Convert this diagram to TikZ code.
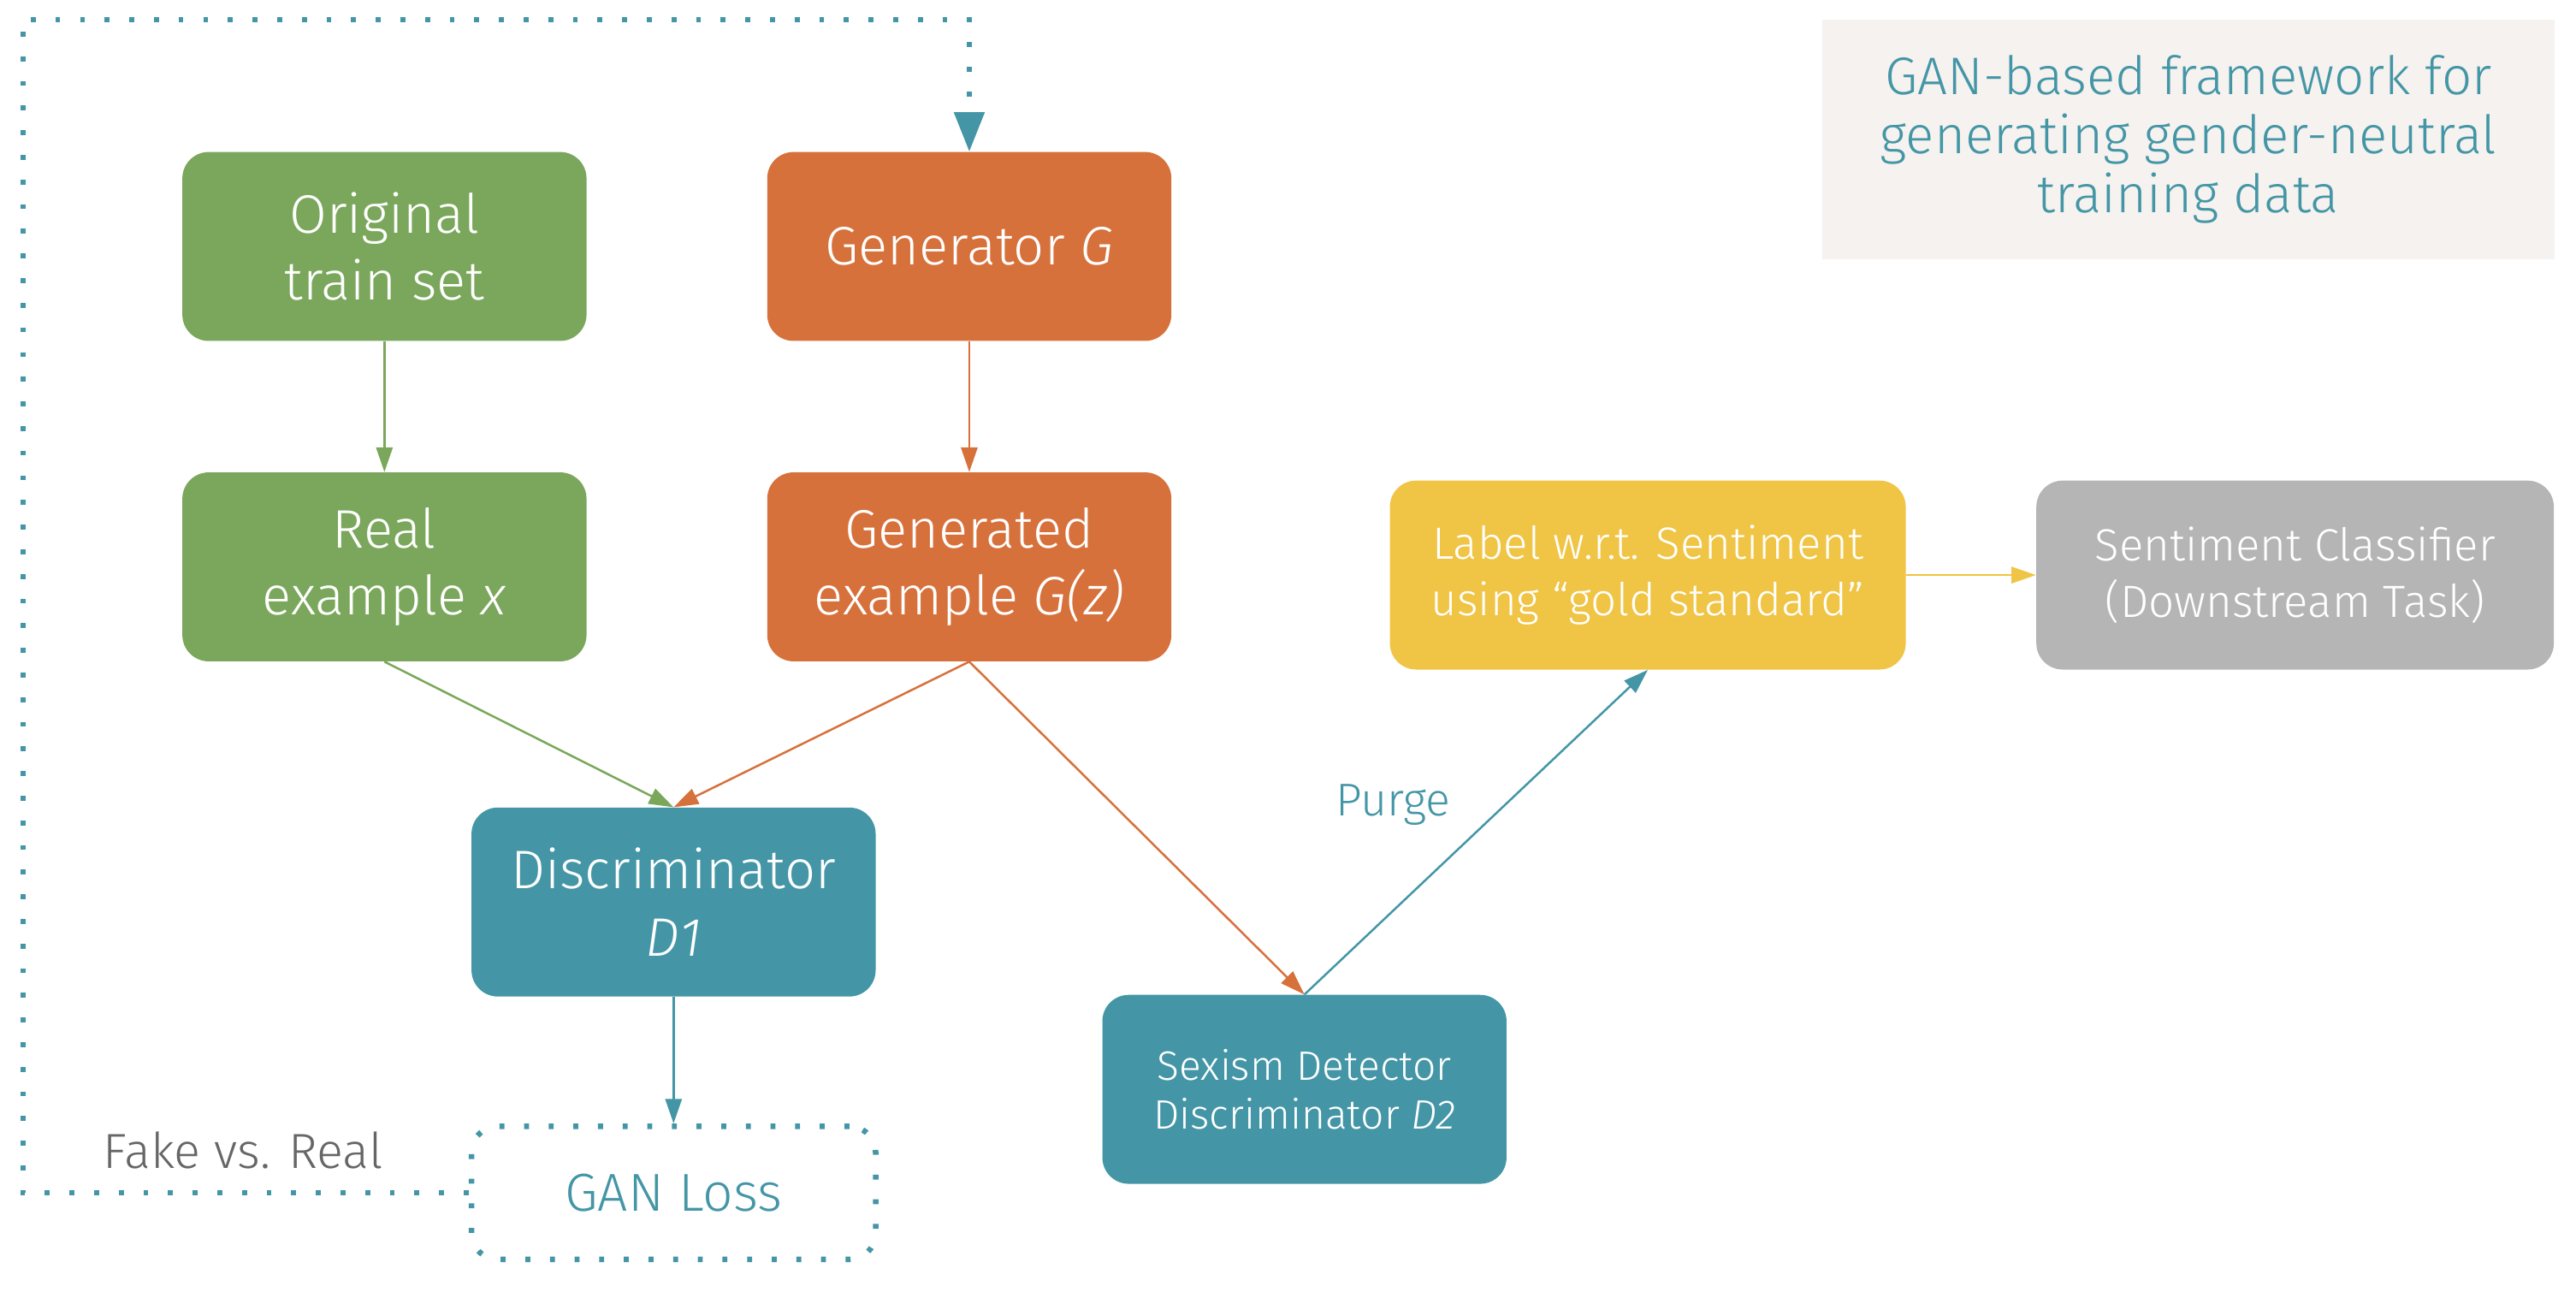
\documentclass[tikz,border=0pt]{standalone}
\usepackage{fontspec}
\setmainfont{Fira Sans Light}[ItalicFont={Fira Sans Light Italic}]
\usetikzlibrary{arrows.meta}
\definecolor{cgreen}{HTML}{7AA75B}
\definecolor{corange}{HTML}{D7713C}
\definecolor{cteal}{HTML}{4496A6}
\definecolor{cyellow}{HTML}{F0C444}
\definecolor{cgray}{HTML}{B5B5B5}
\definecolor{ctitle}{HTML}{F5F2EF}
\definecolor{ctext}{HTML}{666666}
\newcommand\myfontA{\fontsize{33}{41}\selectfont}
\newcommand\myfontB{\fontsize{27.5}{34}\selectfont}
\newcommand\myfontC{\fontsize{25}{30}\selectfont}
\newcommand\myfontT{\fontsize{32.2}{36}\selectfont}
\tikzset{
  box/.style={rounded corners=16pt, minimum width=246pt, minimum height=115pt, align=center, text=white, inner sep=0pt, font=\myfontA},
  conn/.style={line width=1.3pt, -{Triangle[length=15pt,width=10pt]}},
  dotloop/.style={draw=cteal, line width=3.4pt, dash pattern=on 3pt off 12pt},
}
\begin{document}
\begin{tikzpicture}[x=1pt,y=-1pt]
\useasboundingbox (0,0) rectangle (1568,786);
% title
\node[fill=ctitle, minimum width=446pt, minimum height=146pt, inner sep=0pt, align=center, text=cteal, font=\myfontT] (title) at (1332,85) {GAN-based framework for\\generating gender-neutral\\training data};
% boxes
\node[box, fill=cgreen] (orig) at (234,150) {Original\\train set};
\node[box, fill=corange] (gen) at (590,150) {Generator \textit{G}};
\node[box, fill=cgreen] (real) at (234,345) {Real\\example \textit{x}};
\node[box, fill=corange] (gz) at (590,345) {Generated\\example \textit{G(z)}};
\node[box, fill=cteal] (d1) at (410,549) {Discriminator\\\textit{D1}};
\node[box, fill=cteal, font=\myfontC] (d2) at (794,663) {Sexism Detector\\Discriminator \textit{D2}};
\node[box, fill=cyellow, minimum width=314pt, font=\myfontB] (label) at (1003,350) {Label w.r.t. Sentiment\\using “gold standard”};
\node[box, fill=cgray, minimum width=315pt, font=\myfontB] (cls) at (1397,350) {Sentiment Classifier\\(Downstream Task)};
\node[dotloop, rounded corners=16pt, minimum width=246pt, minimum height=81pt, inner sep=0pt, text=cteal, font=\fontsize{32.5}{36}\selectfont] (loss) at (410,726) {GAN Loss};
% labels
\node[text=ctext, font=\fontsize{30}{34}\selectfont] (fvr) at (148,700) {Fake vs. Real};
\node[text=cteal, font=\fontsize{28}{32}\selectfont] (purge) at (848,490) {Purge};
% connectors
\draw[conn, cgreen] (orig) -- (real);
\draw[conn, corange] (gen) -- (gz);
\draw[conn, cgreen] (real.south) -- (d1.north);
\draw[conn, corange] (gz.south) -- (d1.north);
\draw[conn, corange] (gz.south) -- (d2.north);
\draw[conn, cteal] (d2.north) -- (label.south);
\draw[conn, cyellow] (label) -- (cls);
\draw[conn, cteal] (d1) -- (loss);
\draw[dotloop, -{Triangle[length=24pt,width=18pt]}] (loss.west) -| (14,12) -| (gen.north);
\end{tikzpicture}
\end{document}
